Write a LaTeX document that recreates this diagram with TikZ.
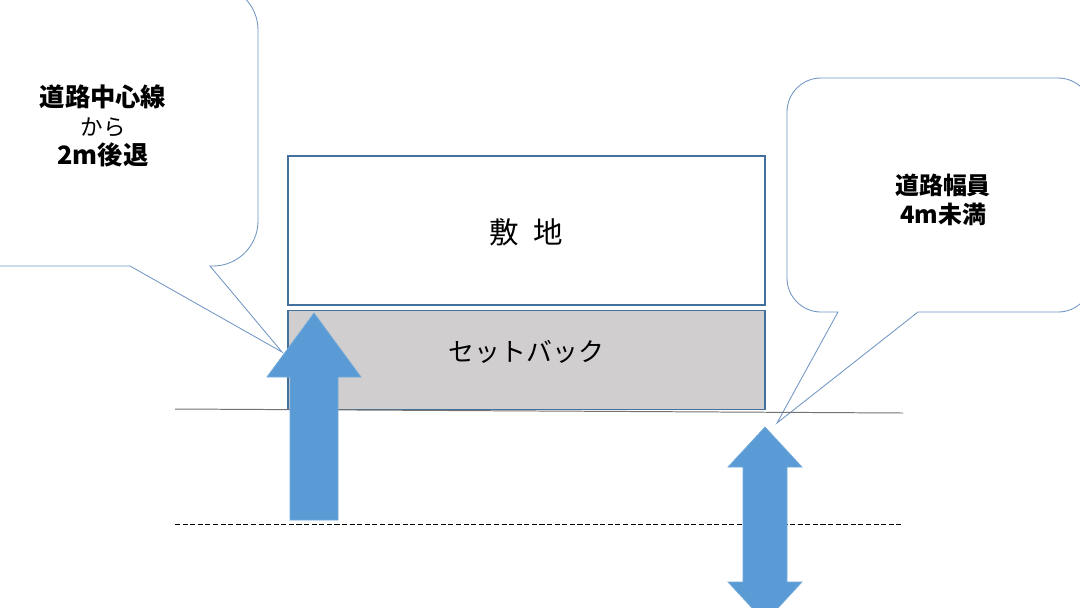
\documentclass[tikz,border=0pt]{standalone}
\usepackage{fontspec}
\newfontfamily\jpfont{Noto Sans CJK JP}
\usetikzlibrary{positioning}

\definecolor{boxline}{HTML}{41719C}
\definecolor{calloutline}{HTML}{7196C4}
\definecolor{arrowblue}{HTML}{5B9BD5}
\definecolor{setbackgray}{HTML}{D0CECE}

\tikzset{
    sitebox/.style = {draw = boxline, line width = 1pt, fill = white,
        minimum width = 11.925cm, minimum height = 3.725cm, inner sep = 0pt},
    setbackbox/.style = {sitebox, fill = setbackgray, minimum height = 2.475cm},
    boxtext/.style = {font = \jpfont\fontsize{18.4}{22}\selectfont, inner sep = 0pt},
    callout/.style = {draw = calloutline, line width = 0.6pt, fill = white},
    callouttext/.style = {font = \jpfont\bfseries\fontsize{18}{20.8}\selectfont, align = center, inner sep = 0pt},
    bigarrow/.style = {fill = arrowblue, draw = arrowblue!85!white, line width = 0.5pt},
    road/.style = {draw = black!55, line width = 0.7pt},
    centerline/.style = {draw = black, line width = 0.6pt, dash pattern = on 3.6pt off 1.8pt}
}

\begin{document}
\begin{tikzpicture}[x = 0.025cm, y = -0.025cm]
    \clip (0,0) rectangle (1080,607);
    \fill[white] (0,0) rectangle (1080,607);

    \node[sitebox] (site) at (526.5,230.5) {};
    \node[setbackbox, below = 0.1cm of site] (setback) {};
    \node[boxtext, font = \jpfont\fontsize{21}{24}\selectfont] (sitelabel) at ([yshift = -0.04cm]site.center) {敷\hspace{0.5em}地};
    \node[boxtext] (setbacklabel) at ([yshift = 0.2cm]setback.center) {セットバック};

    \draw[callout] (210,266) -- (282,352) -- (130,266) -- (-20,266) -- (-20,-15) -- (213,-15)
        arc[start angle = -90, end angle = 0, radius = 45] -- (258,221)
        arc[start angle = 0, end angle = 90, radius = 45] -- cycle;
    \draw[callout] (838,312) -- (777,423) -- (918,312) -- (1058,312)
        arc[start angle = 90, end angle = 0, radius = 34] -- (1092,112)
        arc[start angle = 0, end angle = -90, radius = 34] -- (821,78)
        arc[start angle = -90, end angle = -180, radius = 34] -- (787,278)
        arc[start angle = 180, end angle = 90, radius = 34] -- cycle;

    \node[callouttext] (retreat) at (103,126)
        {道路中心線\\{\mdseries\fontsize{16}{20.8}\selectfont から}\\2m後退};
    \node[callouttext, font = \jpfont\bfseries\fontsize{17}{21}\selectfont] (width) at (943,200)
        {道路幅員\\4m未満};

    \coordinate (roadW) at (175,409);
    \coordinate (roadE) at (903,413);
    \coordinate (axisW) at (175,524);
    \coordinate (axisE) at (903,524);
    \draw[road] (roadW) -- (roadE);
    \draw[centerline] (axisW) -- (axisE);

    \draw[bigarrow] (290,520) -- (290,377) -- (267,377) -- (314,313) -- (361,377) -- (338,377) -- (338,520) -- cycle;
    \draw[bigarrow] (743,467) -- (728,467) -- (765,427) -- (802,467) -- (787,467) -- (787,582)
        -- (802,582) -- (765,622) -- (728,582) -- (743,582) -- cycle;
\end{tikzpicture}
\end{document}
